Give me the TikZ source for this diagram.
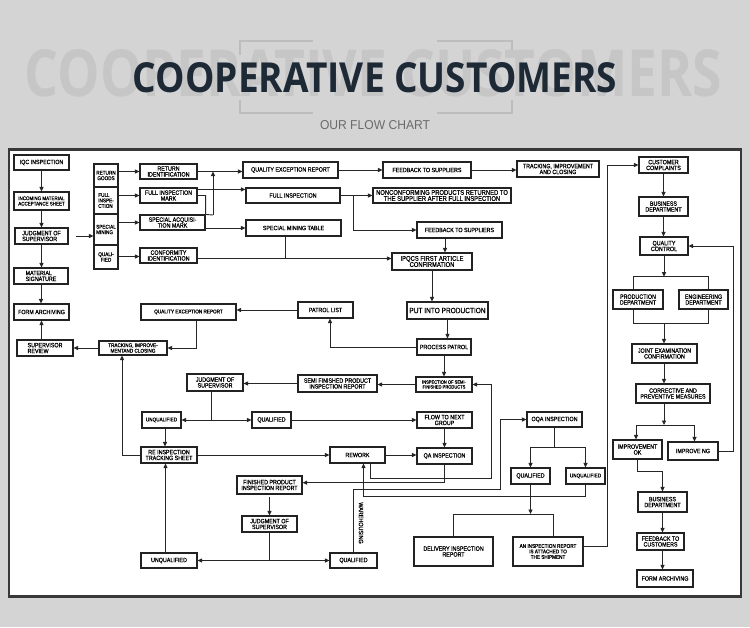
\documentclass[tikz,border=0pt]{standalone}
\usepackage{fontspec}
\setmainfont{Liberation Sans}
\newfontfamily\bxf[FakeStretch=0.86,FakeBold=0.7]{Liberation Sans}
\newfontfamily\subf[FakeStretch=0.86]{Liberation Sans}
\newfontfamily\ttlf{Open Sans}
\usetikzlibrary{arrows.meta}
\definecolor{bgc}{HTML}{D4D4D4}
\definecolor{ghostc}{HTML}{C6C6C6}
\definecolor{brkc}{HTML}{BDBDBD}
\definecolor{titlec}{HTML}{1E2936}
\definecolor{subc}{HTML}{6B6B6B}
\definecolor{framec}{HTML}{383838}
\definecolor{boxc}{HTML}{222222}
\definecolor{linec}{HTML}{262626}
\newcommand\smallf{\bxf\fontsize{5.4}{5.5}\selectfont}
\newcommand\tinyf{\bxf\fontsize{4.7}{4.8}\selectfont}
\newcommand\bigf{\bxf\fontsize{6.8}{6.1}\selectfont}
\newcommand\putf{\bxf\fontsize{7.6}{7}\selectfont}
\tikzset{
  box/.style={draw=boxc, line width=1.1pt, fill=white, inner sep=0.6pt, align=center,
    font=\bxf\fontsize{6.2}{5.8}\selectfont, text=black},
  arr/.style={draw=linec, line width=0.9pt, -{Triangle[length=4.5pt,width=4pt]}},
  ln/.style={draw=linec, line width=0.9pt},
  brk/.style={draw=brkc, line width=1.3pt},
}
\newcommand\mybox[7][]{\node[box,#1,minimum width={(#5)-(#3)},minimum height={(#6)-(#4)}] (#2) at ({((#3)+(#5))/2},{((#4)+(#6))/2}) {#7};}
\begin{document}
\begin{tikzpicture}[x=1pt,y=-1pt]
\fill[bgc] (0,0) rectangle (750,627);
\useasboundingbox (0,0) rectangle (750,627);
% heading
\draw[brk] (240,55) -- (240,41) -- (313,41);
\draw[brk] (437,41) -- (512,41) -- (512,55);
\draw[brk] (240,100) -- (240,113) -- (313,113);
\draw[brk] (437,113) -- (512,113) -- (512,100);
\node[inner sep=0, text=ghostc] (ghost) at (373.5,73) {\resizebox{697pt}{47pt}{\ttlf\bfseries COOPERATIVE CUSTOMERS}};
\node[inner sep=0, text=titlec] (title) at (375,78) {\resizebox{484pt}{30pt}{\ttlf\bfseries COOPERATIVE CUSTOMERS}};
\node[inner sep=0, text=subc] (sub) at (375,125.5) {\resizebox{110pt}{9pt}{\subf OUR FLOW CHART}};
% frame
\draw[line width=2.6pt, draw=framec, fill=white] (9,149.5) rectangle (741,596.5);
% left column
\mybox{iqc}{14}{155}{69}{170}{IQC INSPECTION}
\mybox[align=left,font=\bxf\fontsize{5.2}{5.4}\selectfont]{incoming}{14}{192}{69}{210}{INCOMING MATERIAL\\ACCEPTANCE SHEET}
\mybox[align=left]{judg1}{15}{228}{68}{244}{JUDGMENT OF\\SUPERVISOR}
\mybox[align=left]{matsig}{14}{268}{68}{284}{MATERIAL\\SIGNATURE}
\mybox{fa1}{14}{304}{69}{320}{FORM ARCHIVING}
\mybox[align=left]{suprev}{17}{340}{73}{356}{SUPERVISOR\\REVIEW}
% category column
\mybox[font=\smallf]{ret}{94}{164}{118}{187}{RETURN\\GOODS}
\mybox[font=\smallf,align=left]{full}{94}{187}{118}{214}{FULL\\INSPE-\\CTION}
\mybox[font=\smallf,align=left]{spec}{94}{214}{118}{245}{SPECIAL\\MINING}
\mybox[font=\smallf]{qual}{94}{245}{118}{269}{QUALI-\\FIED}
% top area
\mybox{retid}{140}{164}{197}{179}{RETURN\\IDENTIFICATION}
\mybox{fim}{140}{188}{197}{203}{FULL INSPECTION\\MARK}
\mybox{sam}{140}{215}{205}{230}{SPECIAL ACQUISI-\\TION MARK}
\mybox{confid}{140}{248}{197}{263}{CONFORMITY\\IDENTIFICATION}
\mybox{qer1}{243}{162}{338}{178}{QUALITY EXCEPTION REPORT}
\mybox{fi}{246}{188}{340}{203}{FULL INSPECTION}
\mybox{smt}{246}{220}{341}{236}{SPECIAL MINING TABLE}
\mybox{fb1}{383}{162}{471}{178}{FEEDBACK TO SUPPLIERS}
\mybox{track1}{517}{161}{599}{177}{TRACKING, IMPROVEMENT\\AND CLOSING}
\mybox[font=\bigf]{nonconf}{373}{188}{511}{203}{NONCONFORMING PRODUCTS RETURNED TO\\THE SUPPLIER AFTER FULL INSPECTION}
\mybox{fb2}{417}{222}{502}{238}{FEEDBACK TO SUPPLIERS}
\mybox[font=\bigf]{ipqcs}{392}{253}{472}{270}{IPQCS FIRST ARTICLE\\CONFIRMATION}
% production
\mybox[font=\putf]{put}{407}{302}{488}{319}{PUT INTO PRODUCTION}
\mybox{patrol}{417}{339}{471}{355}{PROCESS PATROL}
\mybox{patlist}{298}{302}{353}{318}{PATROL LIST}
\mybox[font=\smallf]{qer2}{141}{304}{236}{320}{QUALITY EXCEPTION REPORT}
\mybox[font=\smallf]{track2}{99}{341}{167}{355}{TRACKING, IMPROVE-\\MENTAND CLOSING}
\mybox[font=\tinyf]{semiinsp}{416}{377}{472}{392}{INSPECTION OF SEMI-\\FINISHED PRODUCTS}
\mybox{semirep}{298}{375}{377}{392}{SEMI FINISHED PRODUCT\\INSPECTION REPORT}
\mybox{judg2}{187}{374}{243}{391}{JUDGMENT OF\\SUPERVISOR}
\mybox[font=\smallf]{unq1}{142}{412}{181}{428}{UNQUALIFIED}
\mybox{qual1}{252}{412}{291}{428}{QUALIFIED}
\mybox{flow}{417}{412}{472}{428}{FLOW TO NEXT\\GROUP}
\mybox{reinsp}{141}{447}{197}{463}{RE INSPECTION\\TRACKING SHEET}
\mybox{rework}{330}{447}{385}{463}{REWORK}
\mybox{qa}{417}{448}{472}{464}{QA INSPECTION}
\mybox{finrep}{237}{476}{302}{494}{FINISHED PRODUCT\\INSPECTION REPORT}
\mybox{judg3}{242}{516}{297}{532}{JUDGMENT OF\\SUPERVISOR}
\mybox{unq2}{141}{553}{197}{568}{UNQUALIFIED}
\mybox{qual2}{330}{553}{377}{568}{QUALIFIED}
\mybox{oqa}{527}{412}{582}{427}{OQA INSPECTION}
\mybox{qual3}{511}{468}{550}{484}{QUALIFIED}
\mybox[font=\smallf]{unq3}{566}{468}{605}{484}{UNQUALIFIED}
\mybox{deliv}{414}{537}{493}{566}{DELIVERY INSPECTION\\REPORT}
\mybox[font=\smallf]{anrep}{513}{537}{583}{566}{AN INSPECTION REPORT\\IS ATTACHED TO\\THE SHIPMENT}
% right column
\mybox{cc}{639}{157}{688}{173}{CUSTOMER\\COMPLAINTS}
\mybox{bd1}{639}{197}{688}{216}{BUSINESS\\DEPARTMENT}
\mybox{qc}{640}{237}{688}{255}{QUALITY\\CONTROL}
\mybox{prod}{613}{290}{663}{309}{PRODUCTION\\DEPARTMENT}
\mybox{eng}{679}{290}{728}{309}{ENGINEERING\\DEPARTMENT}
\mybox{joint}{632}{344}{697}{363}{JOINT EXAMINATION\\CONFIRMATION}
\mybox{corr}{636}{384}{710}{403}{CORRECTIVE AND\\PREVENTIVE MEASURES}
\mybox{impok}{613}{440}{662}{459}{IMPROVEMENT\\OK}
\mybox{impng}{668}{442}{718}{460}{IMPROVE NG}
\mybox{bd2}{638}{492}{687}{512}{BUSINESS\\DEPARTMENT}
\mybox{fbc}{637}{533}{684}{550}{FEEDBACK TO\\CUSTOMERS}
\mybox{fa2}{637}{570}{693}{587}{FORM ARCHIVING}
% label
\node[rotate=-90, inner sep=0, font=\bxf\fontsize{6.3}{6}\selectfont] (wh) at (361,523) {WAREHOUSING};
% coordinates
\coordinate (m1) at (213,215);
\coordinate (m2) at (213,171.5);
\coordinate (m3) at (285,258.5);
\coordinate (m4) at (353,195.5);
\coordinate (m6) at (211.7,420);
\coordinate (m7) at (491.7,478);
\coordinate (m8) at (269.5,560.5);
\coordinate (m9) at (500,489.3);
\coordinate (m10) at (585.5,496.7);
\coordinate (m11) at (554.5,447.7);
\coordinate (m12) at (530.5,514);
\coordinate (m13) at (607.5,165);
\coordinate (m14) at (664,276.7);
\coordinate (m15) at (664,323.3);
\coordinate (m16) at (664,425);
\coordinate (m17) at (733.3,300);
\coordinate (m18) at (662.5,471.7);
% left column connectors
\draw[arr] (iqc.south) -- (incoming.north);
\draw[arr] (incoming.south) -- (incoming.south |- judg1.north);
\draw[arr] (judg1.south) -- (judg1.south |- matsig.north);
\draw[arr] (matsig.south) -- (matsig.south |- fa1.north);
\draw[arr] (fa1.south |- suprev.north) -- (fa1.south);
\draw[arr] ([xshift=7pt]judg1.east) -- (judg1.east -| spec.west);
% category connectors
\draw[arr] (retid.west -| ret.east) -- (retid.west);
\draw[arr] (fim.west -| full.east) -- (fim.west);
\draw[arr] (sam.west -| spec.east) -- (sam.west);
\draw[arr] ([yshift=-1pt]confid.west -| qual.east) -- ([yshift=-1pt]confid.west);
\draw[arr] (retid.east) -- (retid.east -| qer1.west);
\draw[ln] (fim.east) -| (sam.north east) -- (m1);
\draw[arr] (m1) -- (m2);
\draw[arr] ([yshift=-2pt]fim.north east) -- ([yshift=-2pt]fim.north east -| fi.west);
\draw[arr] (sam.east |- smt.west) -- (smt.west);
\draw[arr] ([yshift=-3pt]confid.east) -- ([yshift=-3pt]confid.east -| ipqcs.west);
\draw[ln] ([xshift=-8.5pt]smt.south) -- (m3);
\draw[arr] (qer1.east) -- (qer1.east -| fb1.west);
\draw[arr] (fb1.east) -- (fb1.east -| track1.west);
\draw[arr] (fi.east) -- (fi.east -| nonconf.west);
\draw[arr] (m4) |- (fb2.west);
\draw[arr] ([xshift=-14.5pt]fb2.south) -- ([xshift=-14.5pt]fb2.south |- ipqcs.north);
\draw[arr] (ipqcs.south) -- (ipqcs.south |- put.north);
\draw[arr] (put.south) -- (put.south |- patrol.north);
\draw[arr] (patrol.west) -| ([xshift=4.5pt]patlist.south);
\draw[arr] (patlist.west) -- (patlist.west -| qer2.east);
\draw[arr] ([xshift=7.5pt]qer2.south) |- (track2.east);
\draw[arr] (track2.west) -- (track2.west -| suprev.east);
\draw[arr] (patrol.south) -- (patrol.south |- semiinsp.north);
\draw[arr] (semiinsp.west) -- (semiinsp.west -| semirep.east);
\draw[arr] (semirep.west) -- (semirep.west -| judg2.east);
\draw[ln] ([xshift=-3.3pt]judg2.south) -- (m6);
\draw[arr] (m6) -- (unq1.east);
\draw[arr] (m6) -- (qual1.west);
\draw[arr] (qual1.east) -- (qual1.east -| flow.west);
\draw[arr] (flow.south) -- (flow.south |- qa.north);
\draw[arr] ([xshift=3.5pt]unq1.south) -- ([xshift=3.5pt]unq1.south |- reinsp.north);
\draw[arr] (reinsp.west) -| ([xshift=-11pt]track2.south);
\draw[arr] (reinsp.east) -- (reinsp.east -| rework.west);
\draw[arr] (rework.east) -- (rework.east -| qa.west);
\draw[arr] ([xshift=-3.5pt]unq2.north) -- ([xshift=-3.5pt]unq2.north |- reinsp.south);
\draw[arr] (qa.south) |- ([yshift=2.3pt]finrep.east);
\draw[arr] ([xshift=12.5pt]rework.south) |- (m7) |- (semiinsp.east);
\draw[arr] ([yshift=-2.5pt]finrep.south) -- (finrep.south |- judg3.north);
\draw[ln] (judg3.south) -- (m8);
\draw[arr] (m8) -- (unq2.east);
\draw[arr] (m8) -- (qual2.west);
\draw[arr] (qual2.north) |- (m9) |- (oqa.west);
\draw[arr] (unq3.south) |- (m10) -| ([xshift=6pt]rework.south);
\draw[ln] (oqa.south) -- (m11);
\draw[arr] (m11) -| (qual3.north);
\draw[arr] (m11) -| (unq3.north);
\draw[arr] (qual3.south) -- (m12);
\draw[ln] (deliv.north) |- (m12);
\draw[ln] ([xshift=5pt]anrep.north) |- (m12);
\draw[arr] ([yshift=4.8pt]anrep.east) -| (m13) -- (cc.west);
% right column connectors
\draw[arr] (cc.south) -- (cc.south |- bd1.north);
\draw[arr] (bd1.south) -- (bd1.south |- qc.north);
\draw[arr] (qc.south) -- (m14);
\draw[ln] ([xshift=-4.7pt]prod.north) |- (m14) -| ([xshift=4.8pt]eng.north);
\draw[ln] ([xshift=-4.7pt]prod.south) |- (m15) -| ([xshift=4.8pt]eng.south);
\draw[arr] (m15) -- (m15 |- joint.north);
\draw[arr] (joint.south -| m15) -- (m15 |- corr.north);
\draw[arr] (corr.south -| m16) -- (m16);
\draw[arr] (m16) -| ([xshift=-1.5pt]impok.north);
\draw[arr] (m16) -| ([xshift=1.5pt]impng.north);
\draw[arr] (impng.east) -| (m17) |- (qc.east);
\draw[arr] (impok.south) |- (m18) -- (m18 |- bd2.north);
\draw[arr] (bd2.south) -- (bd2.south |- fbc.north);
\draw[arr] (bd2.south |- fbc.south) -- (bd2.south |- fa2.north);
\end{tikzpicture}
\end{document}
